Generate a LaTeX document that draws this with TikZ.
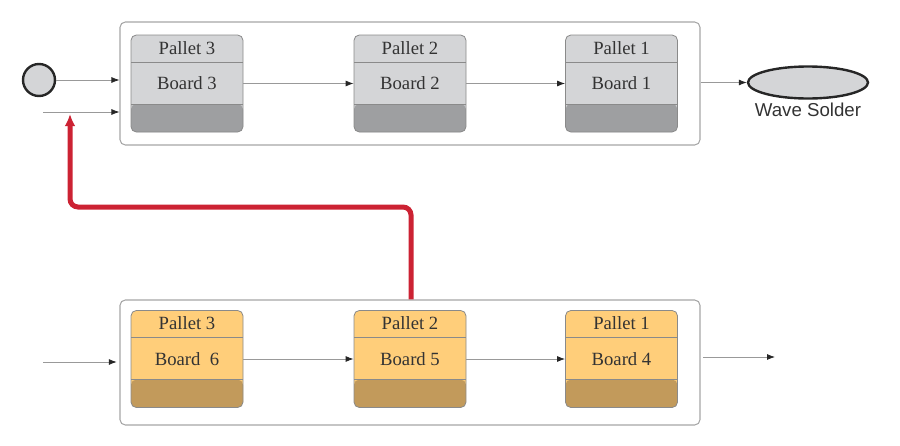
\documentclass[tikz,border=0pt]{standalone}
\usepackage{fontspec}
\setmainfont{Liberation Serif}
\newfontfamily\labelfont{Liberation Sans}
\usetikzlibrary{positioning,shapes.geometric,arrows.meta}

\definecolor{unitborder}{HTML}{8A8A8A}
\definecolor{graylight}{HTML}{D4D5D7}
\definecolor{graydark}{HTML}{9E9FA1}
\definecolor{orangelight}{HTML}{FFCE7A}
\definecolor{orangedark}{HTML}{C29A5B}
\definecolor{returnred}{HTML}{CC2233}
\definecolor{textgray}{HTML}{333333}

\begin{document}
\begin{tikzpicture}[
 x=0.75pt, y=-0.75pt,
 line/.style={draw=gray!70, rounded corners=4pt, line width=0.8pt, minimum width=435pt},
 unit/.style 2 args={draw=unitborder, rounded corners=4pt, fill=#1, line width=0.6pt,
  minimum width=84pt, minimum height=72.75pt, inner sep=0pt,
  font=\fontsize{14}{16}\selectfont, text=textgray,
  path picture={
   \fill[#2] (path picture bounding box.south west) rectangle ([yshift=21pt]path picture bounding box.south east);
   \draw[unitborder, line width=0.6pt] ([yshift=21pt]path picture bounding box.south west) -- ([yshift=21pt]path picture bounding box.south east);
   \draw[unitborder, line width=0.6pt] ([yshift=-20.25pt]path picture bounding box.north west) -- ([yshift=-20.25pt]path picture bounding box.north east);
  }},
 graybox/.style={unit={graylight}{graydark}},
 orangebox/.style={unit={orangelight}{orangedark}},
 plabel/.style={font=\fontsize{14}{16}\selectfont, text=textgray, inner sep=0pt},
 arrow/.style={draw=gray!80, line width=0.6pt, -{Latex[length=6pt,width=4.5pt,color=black!85]}},
 back/.style={draw=returnred, line width=3.75pt, rounded corners=6pt, -{Latex[length=9pt,width=8pt]}}
]
\useasboundingbox (0,0) rectangle (900,446);

% upper line
\node[line, minimum height=92.25pt] (top) at (410,83.5) {};
\node[graybox] (b3) at (187,83.5) {Board 3};
\node[graybox] (b2) at (410,83.5) {Board 2};
\node[graybox] (b1) at (621.5,83.5) {Board 1};
\node[plabel] at ([yshift=-10.1pt]b3.north) {Pallet 3};
\node[plabel] at ([yshift=-10.1pt]b2.north) {Pallet 2};
\node[plabel] at ([yshift=-10.1pt]b1.north) {Pallet 1};

% lower line
\node[line, minimum height=93.75pt] (bot) at (410,362.5) {};
\node[orangebox] (b6) at (187,359) {Board\ \ 6};
\node[orangebox] (b5) at (410,359) {Board 5};
\node[orangebox] (b4) at (621.5,359) {Board 4};
\node[plabel] at ([yshift=-10.1pt]b6.north) {Pallet 3};
\node[plabel] at ([yshift=-10.1pt]b5.north) {Pallet 2};
\node[plabel] at ([yshift=-10.1pt]b4.north) {Pallet 1};

% start and end
\node[circle, draw=black!85, fill=graylight, line width=1.8pt, minimum size=24pt] (start) at (39,80) {};
\node[ellipse, draw=black!85, fill=graylight, line width=1.8pt, minimum width=90pt, minimum height=24pt] (wave) at (808,82.5) {};
\node[below=2pt of wave, font=\labelfont\fontsize{14}{16}\selectfont, text=textgray, inner sep=0pt] (wavetext) {Wave Solder};

\coordinate (in) at (43,112);
\coordinate (botin) at (43,362);
\coordinate (botout) at (703,357);
\coordinate (botend) at (775,357);
\coordinate (turn) at (70,207);

% arrows
\draw[arrow] (start) -- (start -| top.west);
\draw[arrow] (in) -- (in -| top.west);
\draw[arrow] (b3) -- (b2);
\draw[arrow] (b2) -- (b1);
\draw[arrow] (top.east |- wave) -- (wave);
\draw[arrow] (botin) -- ([xshift=-2pt]botin -| bot.west);
\draw[arrow] (b6) -- (b5);
\draw[arrow] (b5) -- (b4);
\draw[arrow] (botout) -- (botend);

% return path
\draw[back] ([xshift=0.75pt]b5.north |- bot.north) |- (turn) -- ([yshift=-1.5pt]turn |- in);

\end{tikzpicture}
\end{document}
